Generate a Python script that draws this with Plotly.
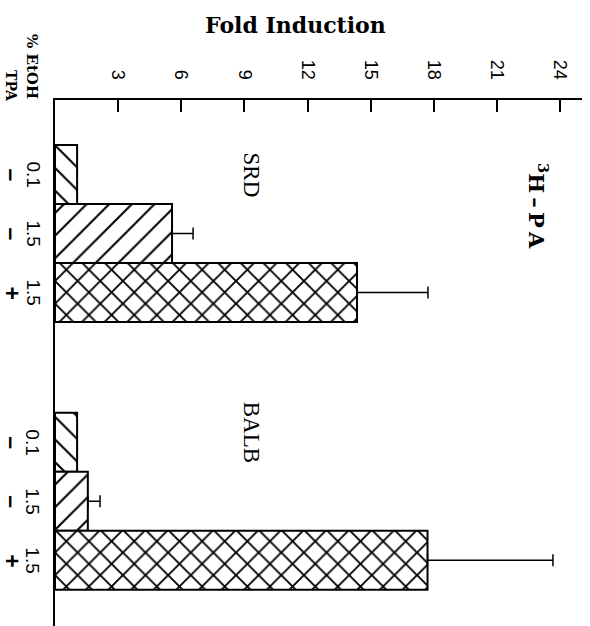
import plotly.graph_objects as go

# ---- data ----
groups = ["SRD", "BALB"]
etoh_labels = ["0.1", "1.5", "1.5"]
tpa_labels = ["–", "–", "+"]
srd_fold = [1.05, 5.56, 14.35]
srd_err = [0.0, 1.0, 3.37]
balb_fold = [1.05, 1.56, 17.7]
balb_err = [0.0, 0.58, 5.96]
x_ticks = [3, 6, 9, 12, 15, 18, 21, 24]

# ---- layout parameters ----
W, H = 590, 626
PL, PR, PT, PB = 55, 8, 100, 0          # plot-area margins (px)
GROUP_STEP = 4.54                         # distance between group starts, in bar widths
X_MAX = 25.04
Y_TOP, Y_BOT = -1.263, 7.653

patterns = ["\\", "/", "x"]
solidities = [0.13, 0.13, 0.22]

fig = go.Figure()

values = [srd_fold, balb_fold]
errors = [srd_err, balb_err]
for g, name in enumerate(groups):
    for i in range(3):
        pos = g * GROUP_STEP + i
        fig.add_trace(go.Bar(
            x=[values[g][i]], y=[pos], orientation="h", width=1.0,
            marker=dict(
                color="white",
                line=dict(color="black", width=2),
                pattern=dict(shape=patterns[i], fgcolor="black", bgcolor="white",
                             fgopacity=1, size=16, solidity=solidities[i]),
            ),
            error_x=dict(type="data", symmetric=False, array=[errors[g][i]],
                         arrayminus=[0], color="black", thickness=1.5, width=6,
                         visible=errors[g][i] > 0),
            showlegend=False,
        ))

def px_x(p):
    return (p - PL) / (W - PL - PR)

def px_y(p):
    return 1 - (p - PT) / (H - PT - PB)

def label(x, y, text, size, family, yref="paper", angle=90):
    return dict(x=x, xref="paper", y=y, yref=yref, text=text, textangle=angle,
                showarrow=False, xanchor="center", yanchor="middle",
                font=dict(family=family, size=size, color="black"))

ann = []
# condition labels beside each bar
for g in range(len(groups)):
    for i in range(3):
        pos = g * GROUP_STEP + i
        ann.append(label(px_x(33), pos, etoh_labels[i], 19, "Liberation Sans", yref="y"))
        ann.append(label(px_x(12), pos, "<b>" + tpa_labels[i] + "</b>", 23,
                         "Liberation Sans", yref="y"))
    # group name
    ann.append(label(px_x(251), g * GROUP_STEP - 0.18 * g, groups[g], 23,
                     "Liberation Serif", yref="y"))

# row headers
ann.append(label(px_x(32), px_y(66), "<b>% EtOH</b>", 15, "DejaVu Serif"))
ann.append(label(px_x(11), px_y(86), "<b>TPA</b>", 14, "DejaVu Serif"))
# assay label
ann.append(label(px_x(538), px_y(206),
                 "<b><sup>3</sup>H\u2009–\u2009P\u2009A</b>", 21, "DejaVu Serif"))
# axis title
ann.append(label(px_x(295), px_y(25), "<b>Fold Induction</b>", 22, "DejaVu Serif", angle=0))

fig.update_layout(
    width=W, height=H,
    margin=dict(l=PL, r=PR, t=PT, b=PB, pad=0),
    paper_bgcolor="white", plot_bgcolor="white",
    barmode="overlay",
    annotations=ann,
    xaxis=dict(
        side="top", range=[0, X_MAX], tickvals=x_ticks,
        ticktext=[str(v) for v in x_ticks], tickangle=90,
        ticks="inside", ticklen=12, tickwidth=1.5, tickcolor="black",
        showline=True, linecolor="black", linewidth=2,
        showgrid=False, zeroline=False, ticklabelstandoff=12,
        tickfont=dict(family="Liberation Sans", size=18, color="black"),
    ),
    yaxis=dict(
        range=[Y_BOT, Y_TOP], showticklabels=False, ticks="",
        showline=True, linecolor="black", linewidth=2,
        showgrid=False, zeroline=False,
    ),
)

fig.write_html("out.html")
